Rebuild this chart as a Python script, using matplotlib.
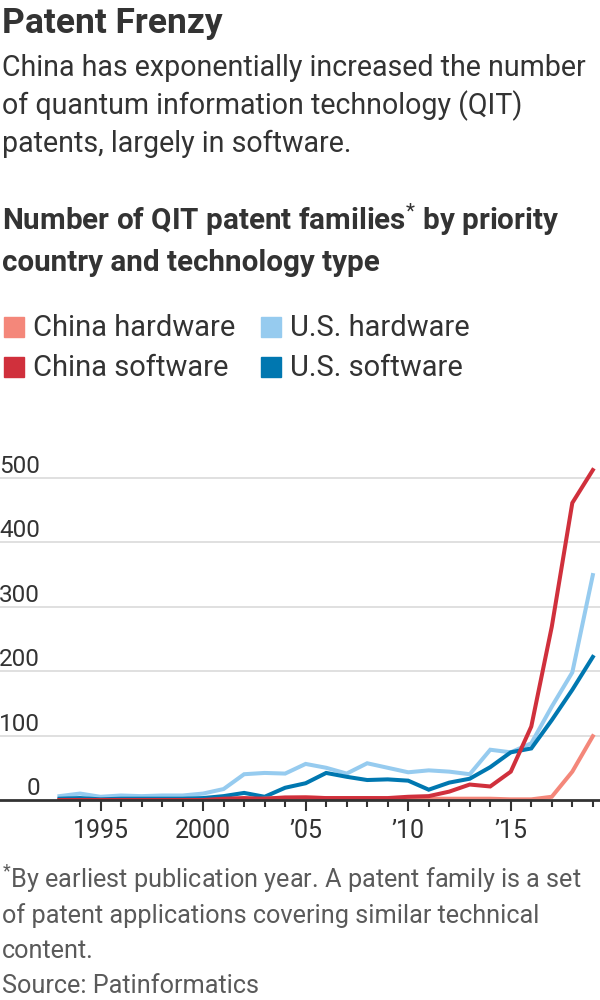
import numpy as np
import matplotlib
matplotlib.use("Agg")
import matplotlib.pyplot as plt
from matplotlib.patches import Rectangle

plt.rcParams['font.family'] = ['Roboto', 'DejaVu Sans']
plt.rcParams['mathtext.fontset'] = 'custom'
plt.rcParams['mathtext.rm'] = 'Roboto'
plt.rcParams['mathtext.bf'] = 'Roboto:bold'

# data
years = list(range(1993, 2020))
china_hw = [0, 0, 0, 0, 0, 0, 0, 0, 0, 0, 2, 3, 4, 3, 3, 3, 2, 2, 2, 2, 2, 2, 1, 1, 5, 44, 99]
china_sw = [0, 0, 0, 0, 0, 0, 0, 0, 2, 3, 2, 4, 4, 3, 3, 3, 3, 5, 6, 13, 24, 21, 44, 114, 269, 461, 512]
us_hw = [6, 10, 5, 7, 6, 7, 7, 10, 17, 40, 42, 41, 56, 50, 41, 57, 50, 43, 46, 44, 40, 78, 74, 88, 145, 198, 349]
us_sw = [2, 3, 1, 2, 2, 2, 2, 3, 6, 11, 5, 19, 26, 42, 36, 31, 32, 30, 16, 27, 33, 51, 74, 80, 124, 171, 222]

series_names = ['China hardware', 'China software', 'U.S. hardware', 'U.S. software']
series_colors = ['#f4877a', '#d0303c', '#96cbef', '#0077b0']
yticks = [0, 100, 200, 300, 400, 500]
xtick_years = [1995, 2000, 2005, 2010, 2015]
xtick_labels = ['1995', '2000', '\u201905', '\u201910', '\u201915']

TEXT = '#333333'
GRAY = '#5a5a5a'

fig = plt.figure(figsize=(6, 10), dpi=100)

def fy(px):
    return 1 - px / 1000

# header
fig.text(0.003, fy(33), 'Patent Frenzy', fontsize=25.5, fontweight='bold', color=TEXT, va='baseline')
sub = ['China has exponentially increased the number',
       'of quantum information technology (QIT)',
       'patents, largely in software.']
for i, line in enumerate(sub):
    fig.text(0.003, fy(76 + 38 * i), line, fontsize=20.6, color=TEXT, va='baseline')

fig.text(0.003, fy(231), r'Number of QIT patent families$^{\mathrm{*}}$ by priority', fontsize=21.3,
         fontweight='bold', color=TEXT, va='baseline')
fig.text(0.003, fy(271), 'country and technology type', fontsize=21.3,
         fontweight='bold', color=TEXT, va='baseline')

# legend
leg_pos = [(4, 327), (4, 367), (261, 327), (261, 367)]
for (lx, ly), name, c in zip(leg_pos, series_names, series_colors):
    fig.patches.append(Rectangle((lx / 600, fy(ly + 10)), 20 / 600, 20 / 1000,
                                 transform=fig.transFigure, color=c, figure=fig))
    fig.text((lx + 29) / 600, fy(ly + 9), name, fontsize=21, color=TEXT, va='baseline')

# chart
ax = fig.add_axes([0, fy(800), 1, 0.348])
for vals, c in zip([us_hw, us_sw, china_hw, china_sw],
                   [series_colors[2], series_colors[3], series_colors[0], series_colors[1]]):
    ax.plot(years, vals, color=c, lw=2.9, solid_joinstyle='miter', zorder=3)

ax.set_xlim(1990.1, 2019.35)
ax.set_ylim(0, 540)
for v in yticks[1:]:
    ax.axhline(v, color='#dddddd', lw=1.3, zorder=1)
for v in yticks:
    ax.annotate(str(v), xy=(0, v), xycoords=('axes fraction', 'data'),
                xytext=(40, 5), textcoords='offset pixels', ha='right', va='baseline',
                fontsize=17.5, color=TEXT)
ax.set_yticks([])
for s in ['top', 'right', 'left']:
    ax.spines[s].set_visible(False)
ax.spines['bottom'].set_color('#333333')
ax.spines['bottom'].set_linewidth(2)
ax.spines['bottom'].set_zorder(4)
ax.set_xticks(xtick_years)
ax.set_xticklabels(xtick_labels)
ax.set_xticks(range(1994, 2020), minor=True)
ax.tick_params(axis='x', which='major', length=8, width=1.5, color='#333333',
               labelsize=18, labelcolor=TEXT, pad=6)
ax.tick_params(axis='x', which='minor', length=5, width=1.5, color='#333333')
ax.patch.set_alpha(0)

# footnote
foot = [r'$^{\mathrm{*}}$By earliest publication year. A patent family is a set',
        'of patent applications covering similar technical',
        'content.',
        'Source: Patinformatics']
for i, line in enumerate(foot):
    fig.text(0.003, fy(888 + 35 * i), line, fontsize=18.2, color=GRAY, va='baseline')

fig.savefig('out.png', dpi=100)
